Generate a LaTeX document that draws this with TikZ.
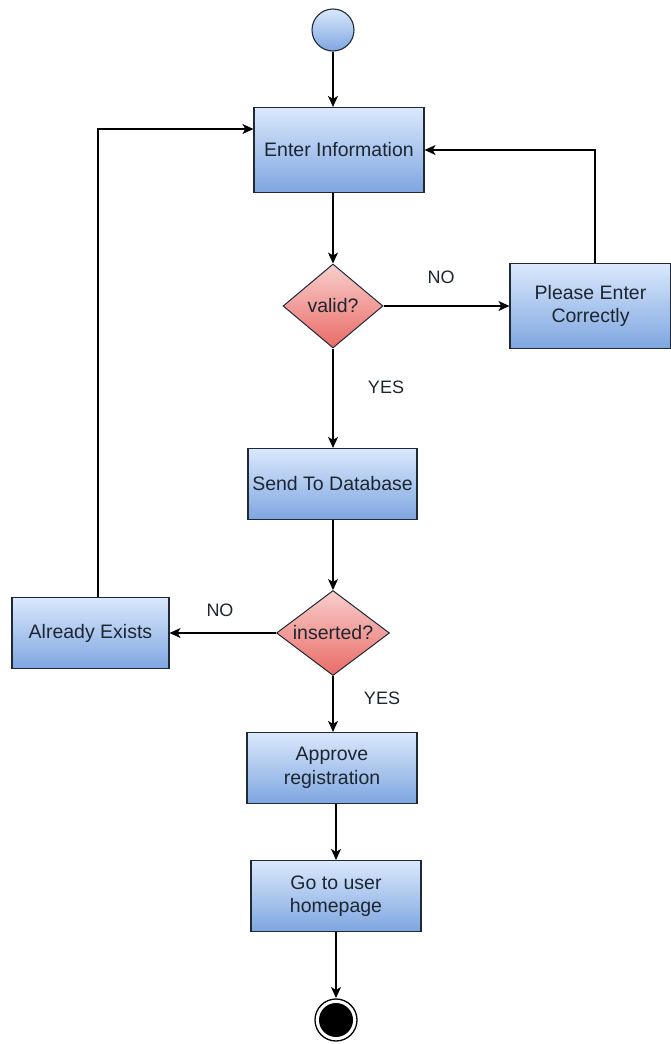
\documentclass[tikz,border=0pt]{standalone}
\usepackage{fontspec}
\setmainfont{Liberation Sans}
\usetikzlibrary{shapes.geometric,arrows.meta}
\definecolor{bluetop}{HTML}{DAE8FC}
\definecolor{bluebot}{HTML}{7EA6E0}
\definecolor{redtop}{HTML}{F8CECC}
\definecolor{redbot}{HTML}{EA6B66}
\definecolor{edge}{HTML}{1F2A36}
\tikzset{
  x=1pt, y=-1pt,
  every node/.style={font=\fontsize{19.5}{23.5}\selectfont, text=edge!90!black},
  actbox/.style={draw=edge, line width=1.2pt, top color=bluetop, bottom color=bluebot,
    minimum width=#1, align=center, inner sep=2pt},
  decide/.style={diamond, draw=edge, line width=1pt, top color=redtop, bottom color=redbot,
    aspect=1.2, inner sep=0pt},
  flow/.style={draw=black, line width=1.1pt, -{Stealth[length=11pt,width=10pt,inset=3pt]}},
  lbl/.style={font=\fontsize{18}{22}\selectfont}
}
\begin{document}
\begin{tikzpicture}
\useasboundingbox (0,0) rectangle (671,1044);

% start and end states
\node[circle, draw=edge, line width=1.1pt, top color=bluetop, bottom color=bluebot,
  minimum size=42pt, inner sep=0pt] (start) at (333,30) {};
\node[circle, fill=black, minimum size=34pt, inner sep=0pt] (stop) at (336,1020) {};
\draw[line width=1.3pt] (stop) circle (21pt);

% activities
\node[actbox=170pt, minimum height=85pt] (enter) at (339,150) {Enter Information};
\node[decide, minimum width=100pt, minimum height=84pt] (valid) at (333,306) {valid?};
\node[actbox=161pt, minimum height=85pt] (again) at (590.5,306) {Please Enter\\Correctly};
\node[actbox=169pt, minimum height=71pt] (send) at (332.5,484) {Send To Database};
\node[decide, minimum width=113pt, minimum height=85pt] (ins) at (333,633) {inserted?};
\node[actbox=157pt, minimum height=71pt] (exists) at (90.5,633) {Already Exists};
\node[actbox=170pt, minimum height=71pt] (approve) at (332,768) {Approve\\registration};
\node[actbox=170pt, minimum height=71pt] (home) at (336,896) {Go to user\\homepage};

% branch labels
\node[lbl] (noA) at (441,277) {NO};
\node[lbl] (yesA) at (386,387) {YES};
\node[lbl] (noB) at (220,610) {NO};
\node[lbl] (yesB) at (382,698) {YES};

% connectors
\draw[flow] (start) -- (start |- enter.north);
\draw[flow] (enter.south -| valid) -- (valid.north);
\draw[flow] (valid.east) -- (again.west);
\draw[flow] (again.north -| 595,0) |- (enter.east |- 0,150);
\draw[flow] (valid.south) -- (valid |- send.north);
\draw[flow] (send.south -| ins) -- (ins.north);
\draw[flow] (ins.west) -- (exists.east);
\draw[flow] (exists.north -| 98,0) |- (enter.west |- 0,129);
\draw[flow] (ins.south) -- (ins |- approve.north);
\draw[flow] (approve.south -| 336,0) -- (home.north);
\draw[flow] (home.south) -- (stop.north |- 0,998);
\end{tikzpicture}
\end{document}
